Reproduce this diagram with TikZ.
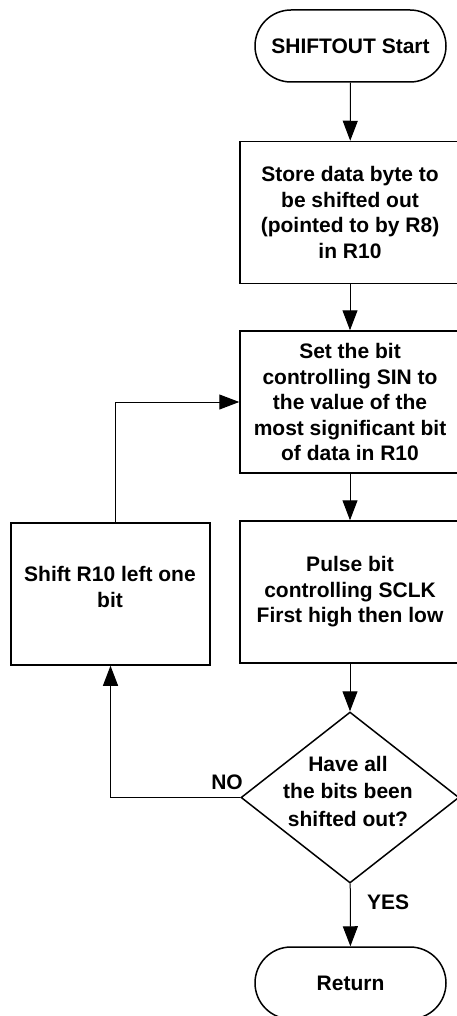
\documentclass[tikz,border=0pt]{standalone}
\usepackage{fontspec}
\setmainfont{Liberation Sans}
\usetikzlibrary{arrows.meta,shapes.geometric}
\begin{document}
\begin{tikzpicture}[x=1pt,y=-1pt,
  every node/.style={font=\bfseries\fontsize{21}{25.5}\selectfont, align=center, inner sep=0pt},
  boxnode/.style={draw, line width=1.5pt, minimum width=220pt, minimum height=142pt},
  term/.style={draw, line width=1.5pt, rounded corners=36pt, minimum width=191pt, minimum height=72pt},
  dia/.style={draw, line width=1.5pt, diamond, minimum width=218pt, minimum height=171pt},
  arr/.style={line width=1pt, -{Triangle[length=20pt,width=15pt]}},
  lbl/.style={font=\bfseries\fontsize{21}{25}\selectfont}]
\useasboundingbox (0,0) rectangle (457,1016);
\clip (0,0) rectangle (457,1016);
\node[term] (start) at (350.5,46) {SHIFTOUT Start};
\node[boxnode] (b1) at (350,212.5) {Store data byte to\\be shifted out\\(pointed to by R8)\\in R10};
\node[boxnode] (b2) at (350,402) {Set the bit\\controlling SIN to\\the value of the\\most significant bit\\of data in R10};
\node[boxnode] (b3) at (350,592) {Pulse bit\\controlling SCLK\\First high then low};
\node[draw, line width=1.5pt, minimum width=199pt, minimum height=142pt] (lb) at (110.5,594) {};
\node (lbt) at (110,587) {Shift R10 left one\\bit};
\node[dia] (d) at (350,797.5) {};
\node[font=\bfseries\fontsize{21}{27.5}\selectfont] (dt) at (348,791) {Have all\\the bits been\\shifted out?};
\node[term] (ret) at (350.5,983) {Return};
\draw[arr] (start) -- (b1);
\draw[arr] (b1) -- (b2);
\draw[arr] (b2) -- (b3);
\draw[arr] (b3) -- (d);
\draw[arr] (d) -- (ret);
\draw[arr] ([xshift=4.5pt]lb.north) |- (b2.west);
\draw[arr] (d.west) -| (lb.south);
\node[lbl, anchor=east] (no) at (243,782) {NO};
\node[lbl, anchor=west] (yes) at (367,902) {YES};
\end{tikzpicture}
\end{document}
